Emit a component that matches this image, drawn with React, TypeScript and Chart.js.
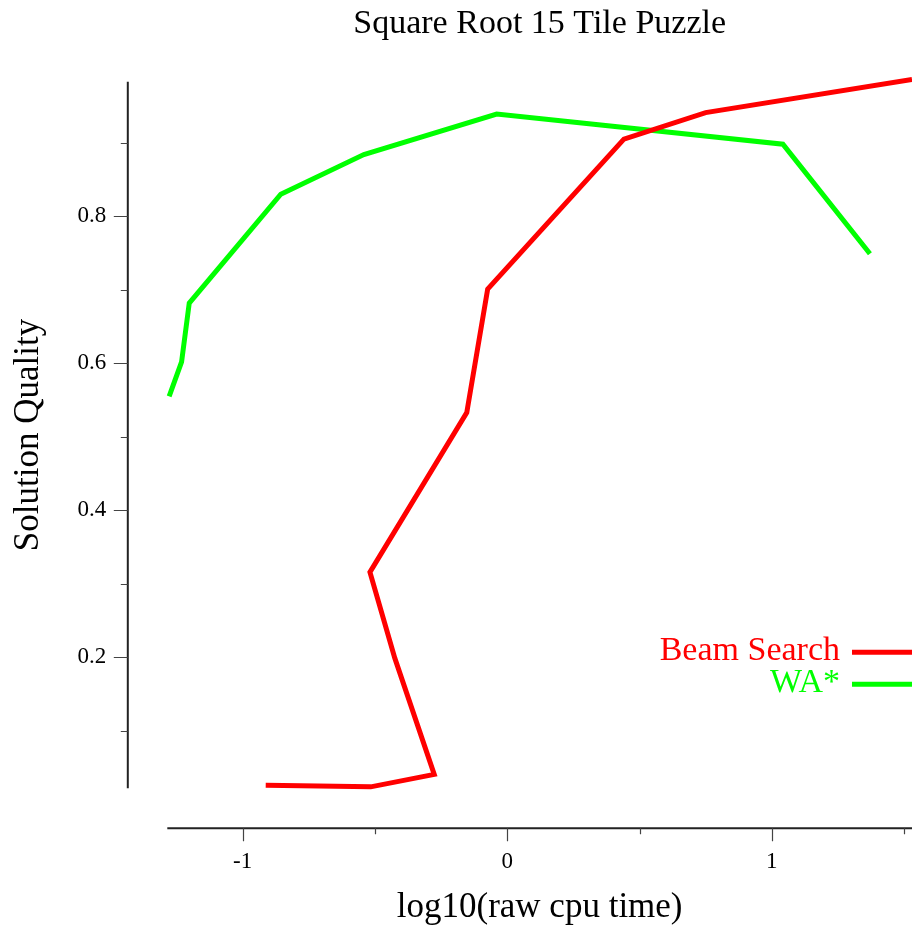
import React, { useEffect, useRef } from "react";
import { Chart, registerables } from "chart.js";

Chart.register(...registerables);

const beamX = [-0.913, -0.516, -0.276, -0.425, -0.519, -0.153, -0.074, 0.441, 0.75, 1.53];
const beamY = [0.026, 0.024, 0.041, 0.199, 0.316, 0.533, 0.701, 0.905, 0.941, 0.986];
const waX = [-1.278, -1.231, -1.202, -0.856, -0.542, -0.04, 1.042, 1.371];
const waY = [0.555, 0.602, 0.682, 0.83, 0.884, 0.939, 0.898, 0.749];

const xMajorTicks = [-1, 0, 1];
const xMinorTicks = [-0.5, 0.5, 1.5];
const yMajorTicks = [0.2, 0.4, 0.6, 0.8];
const yMinorTicks = [0.1, 0.3, 0.5, 0.7, 0.9];

const X_MIN = -1.285;
const X_MAX = 1.53;
const Y_MIN = 0.022;
const Y_MAX = 0.983;

const FONT = "'Liberation Serif', 'Times New Roman', serif";

const axesPlugin = {
  id: "detachedAxes",
  afterDraw(chart: any) {
    const { ctx, chartArea } = chart;
    const xs = chart.scales.x;
    const ys = chart.scales.y;
    const axisX = chartArea.left - 39.5;
    const axisY = chartArea.bottom + 40;
    ctx.save();
    ctx.strokeStyle = "#222";
    ctx.lineWidth = 2;
    ctx.beginPath();
    ctx.moveTo(axisX, chartArea.top);
    ctx.lineTo(axisX, chartArea.bottom);
    ctx.moveTo(chartArea.left, axisY);
    ctx.lineTo(chartArea.right, axisY);
    ctx.stroke();
    ctx.strokeStyle = "#444";
    ctx.lineWidth = 1.2;
    ctx.beginPath();
    yMajorTicks.forEach((v) => {
      const p = Math.round(ys.getPixelForValue(v)) + 0.5;
      ctx.moveTo(axisX - 14, p);
      ctx.lineTo(axisX, p);
    });
    yMinorTicks.forEach((v) => {
      const p = Math.round(ys.getPixelForValue(v)) + 0.5;
      ctx.moveTo(axisX - 7, p);
      ctx.lineTo(axisX, p);
    });
    xMajorTicks.forEach((v) => {
      const p = Math.round(xs.getPixelForValue(v)) + 0.5;
      ctx.moveTo(p, axisY);
      ctx.lineTo(p, axisY + 13);
    });
    xMinorTicks.forEach((v) => {
      const p = Math.round(xs.getPixelForValue(v)) + 0.5;
      ctx.moveTo(p, axisY);
      ctx.lineTo(p, axisY + 6);
    });
    ctx.stroke();

    // legend (text on the left, line sample on the right)
    const rows = [chartArea.bottom - 136, chartArea.bottom - 104];
    chart.data.datasets.forEach((ds: any, i: number) => {
      const y = rows[i];
      ctx.strokeStyle = ds.borderColor;
      ctx.lineWidth = 5;
      ctx.beginPath();
      ctx.moveTo(chartArea.right - 60, y);
      ctx.lineTo(chartArea.right, y);
      ctx.stroke();
      ctx.fillStyle = ds.borderColor;
      ctx.font = `34px ${FONT}`;
      ctx.textAlign = "right";
      ctx.textBaseline = "alphabetic";
      ctx.fillText(ds.label, chartArea.right - 72, y + 8);
    });
    ctx.restore();
  },
};

export default function App() {
  const ref = useRef<HTMLCanvasElement | null>(null);
  useEffect(() => {
    document.body.style.margin = "0";
    const canvas = ref.current;
    if (!canvas) return;
    const chart = new Chart(canvas, {
      type: "scatter",
      data: {
        datasets: [
          {
            label: "Beam Search",
            data: beamX.map((x, i) => ({ x, y: beamY[i] })),
            borderColor: "#ff0000",
            backgroundColor: "#ff0000",
            showLine: true,
            borderWidth: 5,
            pointRadius: 0,
            tension: 0,
            clip: 10,
          },
          {
            label: "WA*",
            data: waX.map((x, i) => ({ x, y: waY[i] })),
            borderColor: "#00ff00",
            backgroundColor: "#00ff00",
            showLine: true,
            borderWidth: 5,
            pointRadius: 0,
            tension: 0,
            clip: 10,
          },
        ],
      },
      options: {
        responsive: false,
        animation: false,
        layout: { padding: 0 },
        plugins: {
          legend: { display: false },
          tooltip: { enabled: false },
          title: {
            display: true,
            text: "Square Root 15 Tile Puzzle",
            fullSize: false,
            color: "#000",
            font: { family: FONT, size: 34, weight: "normal" },
            padding: { top: 4, bottom: 36.9 },
          },
        },
        scales: {
          x: {
            type: "linear",
            min: X_MIN,
            max: X_MAX,
            grid: { display: false, drawTicks: false },
            border: { display: false },
            afterBuildTicks: (s: any) => {
              s.ticks = xMajorTicks.map((v) => ({ value: v }));
            },
            afterFit: (s: any) => {
              s.height = 137.7;
            },
            ticks: {
              color: "#000",
              padding: 60,
              font: { family: FONT, size: 23 },
              maxRotation: 0,
              callback: (v: any) => String(v),
            },
            title: {
              display: true,
              text: "log10(raw cpu time)",
              color: "#000",
              font: { family: FONT, size: 35 },
              padding: { top: 0, bottom: -3 },
            },
          },
          y: {
            type: "linear",
            min: Y_MIN,
            max: Y_MAX,
            grid: { display: false, drawTicks: false },
            border: { display: false },
            afterBuildTicks: (s: any) => {
              s.ticks = yMajorTicks.map((v) => ({ value: v }));
            },
            afterFit: (s: any) => {
              s.width = 167.3;
            },
            ticks: {
              color: "#000",
              padding: 61,
              font: { family: FONT, size: 23 },
              callback: (v: any) => String(v),
            },
            title: {
              display: true,
              text: "Solution Quality",
              color: "#000",
              font: { family: FONT, size: 35 },
              padding: { top: 8, bottom: 0 },
            },
          },
        },
      },
      plugins: [axesPlugin],
    });
    return () => chart.destroy();
  }, []);
  return (
    <div style={{ width: 912, height: 926, background: "#fff" }}>
      <canvas ref={ref} width={912} height={926} style={{ display: "block", width: 912, height: 926 }} />
    </div>
  );
}
